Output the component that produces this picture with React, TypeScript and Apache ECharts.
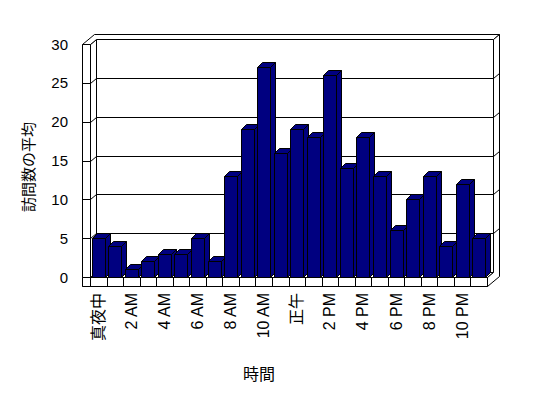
import React, { useEffect, useRef } from "react";
import * as echarts from "echarts";

const hours = [
  "真夜中", "1 AM", "2 AM", "3 AM", "4 AM", "5 AM", "6 AM", "7 AM", "8 AM", "9 AM", "10 AM", "11 AM",
  "正午", "1 PM", "2 PM", "3 PM", "4 PM", "5 PM", "6 PM", "7 PM", "8 PM", "9 PM", "10 PM", "11 PM",
];
const visits = [5, 4, 1, 2, 3, 3, 5, 2, 13, 19, 27, 16, 19, 18, 26, 14, 18, 13, 6, 10, 13, 4, 12, 5];
const yTicks = [0, 5, 10, 15, 20, 25, 30];
const xTitle = "時間";
const yTitle = "訪問数の平均";

const FONT = '"Liberation Sans", Arial, "Noto Sans CJK JP", sans-serif';
const NAVY = "#000080";

const px = (v: number) => Math.round(v) + 0.5;

export default function App() {
  const ref = useRef<HTMLDivElement>(null);
  useEffect(() => {
    if (!ref.current) return;
    const chart = echarts.init(ref.current, null, { renderer: "svg" });
    const DX = 6, DY = 5, WALL = 8, FLOOR = 9, BD = 5;
    const yMax = yTicks[yTicks.length - 1];
    const line = { stroke: "#000", lineWidth: 1, fill: "none" };
    const face = { stroke: "#000", lineWidth: 1, fill: "#fff" };

    const frameRender = (params: any, api: any) => {
      const bw = api.size([1, 0])[0];
      const Lr = api.coord([0, 0])[0] - bw / 2;
      const L = px(Lr);
      const R = px(api.coord([hours.length - 1, 0])[0] + bw / 2);
      const yOf = (v: number) => px(api.coord([0, v])[1]);
      const T = yOf(yMax);
      const B = yOf(0);
      const ch: any[] = [];
      ch.push({ type: "polygon", shape: { points: [[L + DX, T - DY], [R + DX, T - DY], [R + DX, B - DY], [L + DX, B - DY]] }, style: face });
      ch.push({ type: "polygon", shape: { points: [[L, T], [L + DX, T - DY], [L + DX, B - DY], [L, B]] }, style: face });
      ch.push({ type: "polygon", shape: { points: [[L, B], [R, B], [R + DX, B - DY], [L + DX, B - DY]] }, style: face });
      ch.push({ type: "polygon", shape: { points: [[L - WALL, T], [L, T], [L + DX, T - DY], [R + DX, T - DY], [R + 2 * DX, T - 2 * DY], [L - WALL + 2 * DX, T - 2 * DY]] }, style: face });
      ch.push({ type: "polygon", shape: { points: [[R + DX, T - DY], [R + 2 * DX, T - 2 * DY], [R + 2 * DX, B + FLOOR - 2 * DY], [R, B + FLOOR], [R, B], [R + DX, B - DY]] }, style: face });
      ch.push({ type: "rect", shape: { x: L - WALL, y: T, width: WALL, height: B + FLOOR - T }, style: face });
      ch.push({ type: "rect", shape: { x: L - WALL, y: B, width: R - L + WALL, height: FLOOR }, style: face });
      for (let k = 0; k <= hours.length; k++) {
        const x = px(Lr + k * bw);
        ch.push({ type: "line", shape: { x1: x, y1: B, x2: x, y2: B + FLOOR }, style: line });
      }
      yTicks.forEach((v) => {
        if (v === 0 || v === yMax) return;
        const y = yOf(v);
        ch.push({ type: "line", shape: { x1: L + DX, y1: y - DY, x2: R + DX, y2: y - DY }, style: line });
        ch.push({ type: "line", shape: { x1: L, y1: y, x2: L + DX, y2: y - DY }, style: line });
        ch.push({ type: "line", shape: { x1: L - WALL, y1: y, x2: L, y2: y }, style: line });
        ch.push({ type: "line", shape: { x1: R + DX, y1: y - DY, x2: R + 2 * DX, y2: y - 2 * DY }, style: line });
      });
      return { type: "group", children: ch };
    };

    const barRender = (params: any, api: any) => {
      const idx = api.value(0);
      const val = api.value(1);
      const top = api.coord([idx, val]);
      const base = api.coord([idx, 0]);
      const bw = api.size([1, 0])[0];
      const w = Math.round(bw * 0.79);
      const x0 = px(top[0] - w / 2);
      const x1 = x0 + w;
      const yt = px(top[1]);
      const yb = px(base[1]);
      const st = { fill: NAVY, stroke: "#000", lineWidth: 1 };
      return {
        type: "group",
        children: [
          { type: "polygon", shape: { points: [[x1, yt], [x1 + BD, yt - BD], [x1 + BD, yb - BD], [x1, yb]] }, style: st },
          { type: "polygon", shape: { points: [[x0, yt], [x1, yt], [x1 + BD, yt - BD], [x0 + BD, yt - BD]] }, style: st },
          { type: "rect", shape: { x: x0, y: yt, width: w, height: yb - yt }, style: st },
        ],
      };
    };

    chart.setOption({
      animation: false,
      backgroundColor: "#fff",
      grid: { left: 90, right: 61, top: 44, bottom: 121, containLabel: false },
      xAxis: {
        type: "category",
        data: hours,
        axisLine: { show: false },
        axisTick: { show: false },
        splitLine: { show: false },
        axisLabel: { interval: 1, rotate: 90, margin: 16, fontSize: 16, color: "#000", fontFamily: FONT },
      },
      yAxis: {
        type: "value",
        min: 0,
        max: yMax,
        interval: 5,
        axisLine: { show: false },
        axisTick: { show: false },
        splitLine: { show: false },
        axisLabel: { margin: 22, fontSize: 15, color: "#000", fontFamily: FONT },
      },
      graphic: [
        { type: "text", x: 259, y: 374, style: { text: xTitle, fontSize: 16, fontFamily: FONT, fill: "#000", textAlign: "center", textVerticalAlign: "middle" } },
        { type: "text", x: 28, y: 167, rotation: Math.PI / 2, style: { text: yTitle, fontSize: 15, fontFamily: FONT, fill: "#000", textAlign: "center", textVerticalAlign: "middle" } },
      ],
      series: [
        { type: "custom", name: "frame", z: 1, silent: true, clip: false, renderItem: frameRender, data: [[0, 0]] },
        { type: "custom", name: "訪問数の平均", z: 2, clip: false, renderItem: barRender, data: visits.map((v, i) => [i, v]) },
      ],
    });
    return () => chart.dispose();
  }, []);
  return <div ref={ref} style={{ position: "fixed", left: 0, top: 0, width: 548, height: 398 }} />;
}
